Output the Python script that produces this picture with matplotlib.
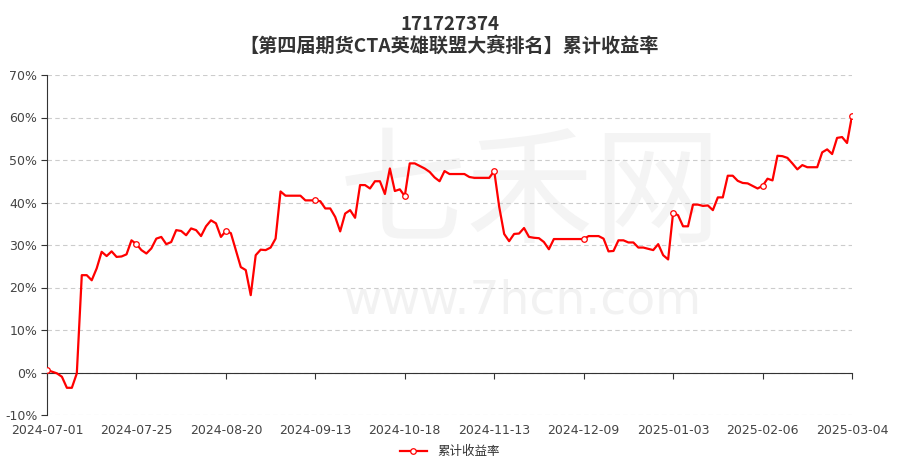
import matplotlib
matplotlib.use("Agg")
import matplotlib.pyplot as plt
from matplotlib.ticker import FuncFormatter, MultipleLocator

plt.rcParams['font.family'] = ['Noto Sans CJK SC', 'DejaVu Sans']

title = "171727374"
subtitle = "【第四届期货CTA英雄联盟大赛排名】累计收益率"
series_name = "累计收益率"

tick_labels = ["2024-07-01", "2024-07-25", "2024-08-20", "2024-09-13", "2024-10-18",
               "2024-11-13", "2024-12-09", "2025-01-03", "2025-02-06", "2025-03-04"]
tick_step = 18

values = [
    0.6, 0.2, -0.2, -1.0, -3.6, -3.6, -0.2, 22.9, 22.9, 21.7,
    24.5, 28.4, 27.4, 28.5, 27.2, 27.3, 27.8, 31.1, 30.2, 28.8,
    28.0, 29.2, 31.5, 31.9, 30.2, 30.7, 33.5, 33.3, 32.3, 33.9,
    33.5, 32.1, 34.4, 35.8, 35.1, 31.9, 33.3, 32.8, 28.8, 24.8,
    24.1, 18.2, 27.6, 28.9, 28.8, 29.4, 31.5, 42.6, 41.6, 41.6,
    41.6, 41.6, 40.5, 40.5, 40.5, 40.3, 38.6, 38.6, 36.6, 33.2,
    37.4, 38.2, 36.4, 44.1, 44.1, 43.3, 45.0, 45.0, 42.0, 48.0,
    42.7, 43.1, 41.5, 49.2, 49.2, 48.6, 48.0, 47.2, 45.9, 45.0,
    47.4, 46.7, 46.7, 46.7, 46.7, 46.0, 45.8, 45.8, 45.8, 45.8,
    47.4, 39.0, 32.6, 30.9, 32.6, 32.7, 34.0, 31.9, 31.7, 31.6,
    30.7, 29.0, 31.4, 31.4, 31.4, 31.4, 31.4, 31.4, 31.4, 32.1,
    32.1, 32.1, 31.5, 28.5, 28.6, 31.1, 31.1, 30.6, 30.6, 29.4,
    29.4, 29.1, 28.8, 30.2, 27.6, 26.6, 37.6, 37.0, 34.4, 34.4,
    39.5, 39.5, 39.2, 39.3, 38.2, 41.2, 41.2, 46.3, 46.3, 45.1,
    44.6, 44.5, 43.9, 43.3, 43.9, 45.6, 45.2, 51.0, 50.9, 50.5,
    49.2, 47.8, 48.8, 48.3, 48.3, 48.3, 51.8, 52.5, 51.4, 55.2,
    55.4, 54.0, 60.4,
]

W, H = 899, 472
fig = plt.figure(figsize=(W / 100, H / 100), dpi=100)
ax = fig.add_axes([47 / W, 1 - 415 / H, (852 - 47) / W, (415 - 75) / H])

x = list(range(len(values)))
line_color = "#ff0000"
ax.plot(x, values, color=line_color, lw=1.6, zorder=3, label=series_name,
        marker="o", markevery=tick_step, markersize=4.0,
        markerfacecolor="white", markeredgecolor=line_color, markeredgewidth=0.9)

ax.set_xlim(0, len(values) - 1)
ax.set_ylim(-10, 70)
ax.yaxis.set_major_locator(MultipleLocator(10))
ax.yaxis.set_major_formatter(FuncFormatter(lambda v, p: f"{v:.0f}%"))
ax.grid(axis="y", color="#cccccc", linestyle=(0, (4, 3)), lw=0.8)
ax.set_axisbelow(True)

ax.set_xticks(x[::tick_step])
ax.set_xticklabels(tick_labels)

for s in ["top", "right"]:
    ax.spines[s].set_visible(False)
ax.spines["left"].set_color("#333333")
ax.spines["bottom"].set_color("#333333")
ax.spines["bottom"].set_position(("data", 0))
ax.tick_params(axis="x", length=4, color="#333333", labelcolor="#444444",
               labelsize=9, pad=33)
ax.tick_params(axis="y", length=4, color="#333333", labelcolor="#444444",
               labelsize=9, pad=3)
for lbl in ax.get_xticklabels() + ax.get_yticklabels():
    lbl.set_family(['DejaVu Sans'])

# watermark
ax.text(0.60, 0.64, "七禾网", transform=ax.transAxes, ha="center", va="center",
        fontsize=92, color="#f4f4f4", zorder=0.1)
ax.text(0.59, 0.335, "www.7hcn.com", transform=ax.transAxes, ha="center", va="center",
        fontsize=34, color="#f2f2f2", zorder=0.1, family=['DejaVu Sans'])

fig.text(0.5, 1 - 25 / H, title, ha="center", va="center", fontsize=13.5,
         fontweight="bold", color="#333333")
fig.text(0.5, 1 - 46 / H, subtitle, ha="center", va="center", fontsize=13.8,
         fontweight="bold", color="#333333")

leg = fig.legend(loc="center", bbox_to_anchor=(0.5, 1 - 452 / H), frameon=False,
                 fontsize=9, handlelength=2.2, labelcolor="#333333")

fig.savefig("out.png", dpi=100)
